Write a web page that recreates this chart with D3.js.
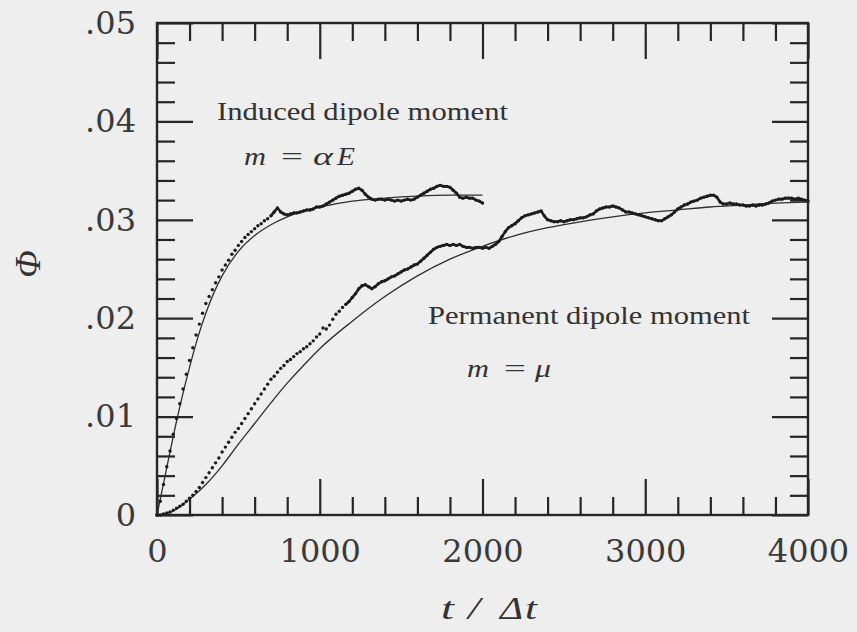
<!DOCTYPE html>
<html>
<head>
<meta charset="utf-8">
<script src="https://cdn.jsdelivr.net/npm/d3@7"></script>
<style>
  html, body { margin: 0; padding: 0; background: #eeeeee; }
  svg { display: block; }
</style>
</head>
<body>
<svg id="chart" width="857" height="632"></svg>
<script>
// Simulated order parameter Φ against time step, for induced and permanent dipoles.

// time step between stored samples of the simulation runs
const sampleStep = 20;

// induced dipole run, t = 0 … 2000
const inducedPhi = [
  0.0000, 0.0014, 0.0031, 0.0049, 0.0065, 0.0082, 0.0098, 0.0113, 0.0128, 0.0143,
  0.0157, 0.0170, 0.0183, 0.0194, 0.0205, 0.0215, 0.0222, 0.0229, 0.0236, 0.0242,
  0.0249, 0.0254, 0.0259, 0.0265, 0.0269, 0.0274, 0.0278, 0.0282, 0.0285, 0.0288,
  0.0291, 0.0294, 0.0296, 0.0299, 0.0301, 0.0304, 0.0308, 0.0312, 0.0308, 0.0306,
  0.0305, 0.0306, 0.0307, 0.0307, 0.0308, 0.0309, 0.0310, 0.0310, 0.0311, 0.0313,
  0.0313, 0.0314, 0.0316, 0.0318, 0.0320, 0.0322, 0.0324, 0.0325, 0.0326, 0.0327,
  0.0329, 0.0331, 0.0332, 0.0330, 0.0326, 0.0323, 0.0321, 0.0320, 0.0321, 0.0321,
  0.0320, 0.0321, 0.0320, 0.0319, 0.0320, 0.0319, 0.0320, 0.0321, 0.0320, 0.0321,
  0.0323, 0.0325, 0.0327, 0.0329, 0.0331, 0.0332, 0.0334, 0.0335, 0.0334, 0.0334,
  0.0333, 0.0330, 0.0327, 0.0323, 0.0322, 0.0323, 0.0322, 0.0322, 0.0320, 0.0319,
  0.0317
];

// permanent dipole run, t = 0 … 4000
const permanentPhi = [
  0.0000, 0.0000, 0.0001, 0.0002, 0.0003, 0.0005, 0.0007, 0.0009, 0.0011, 0.0014,
  0.0017, 0.0020, 0.0024, 0.0028, 0.0033, 0.0038, 0.0043, 0.0048, 0.0053, 0.0058,
  0.0064, 0.0069, 0.0074, 0.0079, 0.0084, 0.0088, 0.0093, 0.0098, 0.0103, 0.0108,
  0.0113, 0.0118, 0.0123, 0.0128, 0.0133, 0.0138, 0.0141, 0.0145, 0.0149, 0.0152,
  0.0156, 0.0158, 0.0161, 0.0164, 0.0166, 0.0169, 0.0171, 0.0174, 0.0177, 0.0181,
  0.0184, 0.0190, 0.0189, 0.0193, 0.0199, 0.0204, 0.0207, 0.0211, 0.0214, 0.0217,
  0.0221, 0.0225, 0.0230, 0.0233, 0.0234, 0.0232, 0.0230, 0.0232, 0.0235, 0.0237,
  0.0238, 0.0240, 0.0242, 0.0243, 0.0245, 0.0247, 0.0249, 0.0250, 0.0252, 0.0254,
  0.0255, 0.0258, 0.0261, 0.0264, 0.0267, 0.0270, 0.0272, 0.0273, 0.0274, 0.0275,
  0.0274, 0.0275, 0.0274, 0.0275, 0.0273, 0.0272, 0.0272, 0.0271, 0.0272, 0.0272,
  0.0271, 0.0272, 0.0271, 0.0273, 0.0275, 0.0278, 0.0283, 0.0288, 0.0292, 0.0294,
  0.0296, 0.0299, 0.0302, 0.0304, 0.0305, 0.0306, 0.0307, 0.0308, 0.0309, 0.0304,
  0.0300, 0.0299, 0.0298, 0.0298, 0.0299, 0.0298, 0.0299, 0.0300, 0.0300, 0.0301,
  0.0302, 0.0302, 0.0303, 0.0305, 0.0306, 0.0309, 0.0311, 0.0312, 0.0313, 0.0313,
  0.0314, 0.0313, 0.0312, 0.0310, 0.0308, 0.0308, 0.0307, 0.0306, 0.0305, 0.0304,
  0.0303, 0.0302, 0.0301, 0.0300, 0.0299, 0.0299, 0.0301, 0.0303, 0.0305, 0.0308,
  0.0311, 0.0313, 0.0315, 0.0316, 0.0318, 0.0319, 0.0320, 0.0322, 0.0323, 0.0324,
  0.0325, 0.0325, 0.0323, 0.0318, 0.0316, 0.0316, 0.0317, 0.0316, 0.0316, 0.0315,
  0.0315, 0.0314, 0.0314, 0.0315, 0.0314, 0.0315, 0.0315, 0.0316, 0.0317, 0.0319,
  0.0320, 0.0321, 0.0321, 0.0322, 0.0322, 0.0322, 0.0321, 0.0322, 0.0321, 0.0320,
  0.0319
];

// fitted relaxation curves
const inducedFitT = [0, 50, 100, 150, 200, 250, 300, 350, 400, 500, 600, 700, 800, 900, 1000, 1200, 1400, 1600, 1800, 2000];
const inducedFitPhi = [0, 0.0040, 0.0080, 0.0117, 0.0150, 0.0180, 0.0205, 0.0226, 0.0243, 0.0268, 0.0284, 0.0295, 0.0303, 0.0309, 0.0313, 0.0319, 0.0322, 0.0324, 0.0325, 0.0325];

const permanentFitT = [0, 100, 200, 300, 400, 500, 600, 700, 800, 900, 1000, 1200, 1400, 1600, 1800, 2000, 2200, 2400, 2600, 2800, 3000, 3200, 3400, 3600, 3800, 4000];
const permanentFitPhi = [0, 0.0004, 0.0016, 0.0031, 0.0050, 0.0072, 0.0093, 0.0114, 0.0134, 0.0152, 0.0169, 0.0197, 0.0222, 0.0243, 0.0260, 0.0273, 0.0284, 0.0292, 0.0298, 0.0303, 0.0307, 0.0310, 0.0313, 0.0315, 0.0317, 0.0318];

// axis ticks
const xMajorTicks = [0, 1000, 2000, 3000, 4000];
const xTickLabels = ["0", "1000", "2000", "3000", "4000"];
const xMinorTicks = [200, 400, 600, 800, 1200, 1400, 1600, 1800, 2200, 2400, 2600, 2800, 3200, 3400, 3600, 3800];
const yMajorTicks = [0, 0.01, 0.02, 0.03, 0.04, 0.05];
const yTickLabels = ["0", ".01", ".02", ".03", ".04", ".05"];
const yMinorTicks = [0.002, 0.004, 0.006, 0.008, 0.012, 0.014, 0.016, 0.018, 0.022, 0.024, 0.026, 0.028,
                     0.032, 0.034, 0.036, 0.038, 0.042, 0.044, 0.046, 0.048];

const ink = "#262626";
const svg = d3.select("#chart");

const plot = { left: 157, right: 808, top: 23, bottom: 515 };
const x = d3.scaleLinear().domain([0, 4000]).range([plot.left, plot.right]);
const y = d3.scaleLinear().domain([0, 0.05]).range([plot.bottom, plot.top]);

const minorLen = 18, majorLen = 36;

function styleAxis(g) {
  g.select(".domain").remove();
  g.selectAll(".tick line").attr("stroke", ink).attr("stroke-width", 2.2);
  g.selectAll(".tick text")
    .attr("fill", "#3a3a3a")
    .attr("font-family", "'DejaVu Serif', serif")
    .attr("font-size", 32);
}

// bottom: minor + major (labelled)
svg.append("g").attr("transform", `translate(0,${plot.bottom})`)
  .call(d3.axisBottom(x).tickValues(xMinorTicks).tickSize(-minorLen).tickFormat(""))
  .call(styleAxis);
svg.append("g").attr("transform", `translate(0,${plot.bottom})`)
  .call(d3.axisBottom(x).tickValues(xMajorTicks).tickSize(-majorLen).tickPadding(24)
        .tickFormat((d, i) => xTickLabels[i]))
  .call(styleAxis);
// top
svg.append("g").attr("transform", `translate(0,${plot.top})`)
  .call(d3.axisTop(x).tickValues(xMinorTicks).tickSize(-minorLen).tickFormat(""))
  .call(styleAxis);
svg.append("g").attr("transform", `translate(0,${plot.top})`)
  .call(d3.axisTop(x).tickValues(xMajorTicks).tickSize(-majorLen).tickFormat(""))
  .call(styleAxis);
// left: minor + major (labelled)
svg.append("g").attr("transform", `translate(${plot.left},0)`)
  .call(d3.axisLeft(y).tickValues(yMinorTicks).tickSize(-minorLen).tickFormat(""))
  .call(styleAxis);
svg.append("g").attr("transform", `translate(${plot.left},0)`)
  .call(d3.axisLeft(y).tickValues(yMajorTicks).tickSize(-majorLen).tickPadding(21)
        .tickFormat((d, i) => yTickLabels[i]))
  .call(styleAxis);
// right
svg.append("g").attr("transform", `translate(${plot.right},0)`)
  .call(d3.axisRight(y).tickValues(yMinorTicks).tickSize(-minorLen).tickFormat(""))
  .call(styleAxis);
svg.append("g").attr("transform", `translate(${plot.right},0)`)
  .call(d3.axisRight(y).tickValues(yMajorTicks).tickSize(-majorLen).tickFormat(""))
  .call(styleAxis);

// frame
svg.append("rect")
  .attr("x", plot.left).attr("y", plot.top)
  .attr("width", plot.right - plot.left).attr("height", plot.bottom - plot.top)
  .attr("fill", "none").attr("stroke", ink).attr("stroke-width", 2.4);

// fitted curves
const fitLine = d3.line().x(d => x(d[0])).y(d => y(d[1])).curve(d3.curveMonotoneX);
[[inducedFitT, inducedFitPhi], [permanentFitT, permanentFitPhi]].forEach(([ts, vs]) => {
  svg.append("path")
    .datum(ts.map((t, i) => [t, vs[i]]))
    .attr("d", fitLine)
    .attr("fill", "none")
    .attr("stroke", "#303030")
    .attr("stroke-width", 1.3);
});

// simulation samples: separate dots during the fast rise, a joined trace afterwards
function drawRun(values, joinFrom) {
  const pts = values.map((v, i) => [i * sampleStep, v]);
  const g = svg.append("g");
  const trace = pts.filter(d => d[0] >= joinFrom);
  g.append("path")
    .datum(trace)
    .attr("d", d3.line().x(d => x(d[0])).y(d => y(d[1])))
    .attr("fill", "none")
    .attr("stroke", "#1c1c1c").attr("stroke-width", 2.6)
    .attr("stroke-linejoin", "round").attr("stroke-linecap", "round");
  g.selectAll("circle").data(pts).join("circle")
    .attr("cx", d => x(d[0])).attr("cy", d => y(d[1]))
    .attr("r", 1.7).attr("fill", "#1c1c1c");
}
drawRun(inducedPhi, 700);
drawRun(permanentPhi, 1160);

// annotations
const serif = "'Liberation Serif', 'Times New Roman', serif";
function label(xp, yp, txt, opts = {}) {
  const t = svg.append("text")
    .attr("x", xp).attr("y", yp)
    .attr("font-family", serif)
    .attr("font-size", opts.size || 25)
    .attr("font-style", opts.italic ? "italic" : "normal")
    .attr("fill", "#333")
    .text(txt);
  if (opts.len) t.attr("textLength", opts.len).attr("lengthAdjust", "spacingAndGlyphs");
  return t;
}

label(217, 120, "Induced dipole moment", { len: 291 });
label(244, 165, "m", { italic: true, len: 22 });
label(281, 165, "=", { len: 22 });
label(313, 165, "α", { italic: true, len: 20 });
label(337, 165, "E", { italic: true, len: 18 });

label(428, 324, "Permanent dipole moment", { len: 322 });
label(467, 377, "m", { italic: true, len: 22 });
label(504, 377, "=", { len: 22 });
label(535, 377, "μ", { italic: true, len: 16 });

// axis titles
label(441, 619, "t", { italic: true, size: 31, len: 13 });
label(468, 619, "/", { italic: true, size: 31, len: 12 });
label(500, 619, "Δ", { italic: true, size: 31, len: 23 });
label(525, 619, "t", { italic: true, size: 31, len: 12 });

svg.append("text")
  .attr("transform", "translate(40,264) rotate(-90)")
  .attr("text-anchor", "middle")
  .attr("font-family", serif).attr("font-style", "italic")
  .attr("font-size", 36).attr("fill", "#333")
  .text("Φ");
</script>
</body>
</html>
